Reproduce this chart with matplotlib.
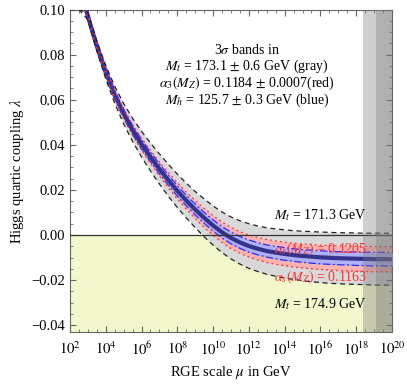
import numpy as np
import matplotlib
matplotlib.use("Agg")
import matplotlib.pyplot as plt
from matplotlib.ticker import FixedLocator, NullFormatter

plt.rcParams["font.family"] = ["Liberation Serif", "DejaVu Serif"]
plt.rcParams["mathtext.fontset"] = "stix"

# log10 of the RGE scale (GeV)
log_mu = [2.0, 2.5, 3.0, 3.5, 4.0, 4.5, 5.0, 5.5, 6.0, 6.5, 7.0, 7.5, 8.0, 8.5,
          9.0, 9.5, 10.0, 10.5, 11.0, 11.5, 12.0, 12.5, 13.0, 13.5, 14.0, 14.5,
          15.0, 15.5, 16.0, 16.5, 17.0, 17.5, 18.0, 18.5, 19.0, 19.5, 20.0]

# central lambda(mu)
lam_central = [0.128, 0.112, 0.097, 0.0838, 0.0722, 0.0622, 0.0538, 0.0466, 0.0403,
               0.0346, 0.0293, 0.0243, 0.0196, 0.0153, 0.0113, 0.0076, 0.0042,
               0.0012, -0.0013, -0.0033, -0.0049, -0.0061, -0.0071, -0.0078,
               -0.0084, -0.0089, -0.0093, -0.0096, -0.0099, -0.0101, -0.0103,
               -0.0104, -0.0105, -0.0106, -0.0107, -0.0107, -0.0108]

# half widths of the 3 sigma bands
width_mt = [0.0005, 0.001, 0.0015, 0.0022, 0.003, 0.0038, 0.0045, 0.0051, 0.0057,
            0.0062, 0.0067, 0.0071, 0.0074, 0.0077, 0.008, 0.0084, 0.0087, 0.009,
            0.0093, 0.0096, 0.0099, 0.0101, 0.0103, 0.0105, 0.0107, 0.0108, 0.011,
            0.0111, 0.0112, 0.0113, 0.0113, 0.0114, 0.0114, 0.0114, 0.0115, 0.0115,
            0.0115]
width_as = [0.0004, 0.0006, 0.0008, 0.0011, 0.0014, 0.0017, 0.002, 0.0023, 0.0026,
            0.0029, 0.0031, 0.0034, 0.0036, 0.0038, 0.004, 0.0042, 0.0044, 0.0045,
            0.0047, 0.0048, 0.0049, 0.005, 0.0051, 0.0052, 0.0052, 0.0053, 0.0053,
            0.0054, 0.0054, 0.0055, 0.0055, 0.0055, 0.0055, 0.0056, 0.0056, 0.0056,
            0.0056]
width_mh = [0.0019, 0.0019, 0.0019, 0.0019, 0.002, 0.002, 0.002, 0.002, 0.0021,
            0.0021, 0.0022, 0.0022, 0.0023, 0.0023, 0.0024, 0.0024, 0.0025, 0.0025,
            0.0026, 0.0026, 0.0027, 0.0027, 0.0027, 0.0028, 0.0028, 0.0028, 0.0028,
            0.0029, 0.0029, 0.0029, 0.0029, 0.0029, 0.003, 0.003, 0.003, 0.003, 0.003]

# Planck-scale shading (log10 GeV)
planck_reduced = 18.38
planck_full = 19.09

mu = 10.0 ** np.array(log_mu)
lam = np.array(lam_central)
wg, wr, wb = np.array(width_mt), np.array(width_as), np.array(width_mh)

fig = plt.figure(figsize=(4.07, 3.84), dpi=100)
ax = fig.add_axes([0.172, 0.135, 0.791, 0.840])

ymin, ymax = -0.0431, 0.10
ax.axhspan(ymin, 0, color="#f2f7cc", zorder=0, lw=0)

ax.fill_between(mu, lam - wg, lam + wg, color="#d9d9d9", lw=0, zorder=1)
ax.fill_between(mu, lam - wr, lam + wr, color="#f9b3b3", lw=0, zorder=2)
ax.fill_between(mu, lam - wb, lam + wb, color="#b0b0f5", lw=0, zorder=3)

ax.plot(mu, lam, color="#33338c", lw=3, zorder=4)
for s in (1, -1):
    ax.plot(mu, lam + s * wb, color="#2b2bff", lw=0.9, ls=(0, (6, 2, 1.5, 2)), zorder=5)
    ax.plot(mu, lam + s * wr, color="#ff3030", lw=0.9, ls=(0, (1.5, 2.5)), zorder=5)
    ax.plot(mu, np.minimum(lam + s * wg, ymax), color="#222222", lw=0.9,
            ls=(0, (4, 3)), zorder=6)

ax.axhline(0, color="#333333", lw=0.9, zorder=6)

ax.axvspan(10 ** planck_reduced, 1e20, color="#777777", alpha=0.35, lw=0, zorder=7)
ax.axvspan(10 ** planck_full, 1e20, color="#777777", alpha=0.35, lw=0, zorder=7)

ax.set_xscale("log")
ax.set_xlim(1e2, 1e20)
ax.set_ylim(ymin, ymax)

ax.xaxis.set_major_locator(FixedLocator([10.0 ** k for k in range(2, 21, 2)]))
ax.xaxis.set_minor_locator(FixedLocator([10.0 ** (k / 2) for k in range(4, 41)]))
ax.xaxis.set_minor_formatter(NullFormatter())
ax.set_xticklabels([f"$10^{{{k}}}$" for k in range(2, 21, 2)])
ax.yaxis.set_major_locator(FixedLocator([-0.04, -0.02, 0.0, 0.02, 0.04, 0.06, 0.08, 0.10]))
ax.yaxis.set_minor_locator(FixedLocator(np.arange(-0.04, 0.1001, 0.005)))
ax.set_yticklabels(["\u22120.04", "\u22120.02", "0.00", "0.02", "0.04", "0.06", "0.08", "0.10"])

ax.tick_params(which="both", direction="in", top=True, right=True, color="#666666",
               labelsize=10.5)
ax.tick_params(which="major", length=4)
ax.tick_params(which="minor", length=2.5)
ax.tick_params(axis="x", labeltop=False, pad=6)
for sp in ax.spines.values():
    sp.set_color("#666666")
    sp.set_linewidth(0.8)

ax.set_xlabel(r"RGE scale $\mu$ in GeV", fontsize=10.5, labelpad=4)
ax.set_ylabel(r"Higgs quartic coupling $\lambda$", fontsize=10.5, labelpad=4)

txt = dict(ha="center", va="center", fontsize=10, zorder=8)
ax.text(0.55, 0.874, r"3$\sigma$ bands in", transform=ax.transAxes, **txt)
ax.text(0.55, 0.823, r"$M_t$ = 173.1 $\pm$ 0.6 GeV (gray)", transform=ax.transAxes, **txt)
ax.text(0.55, 0.771, r"$\alpha_3(M_Z)$ = 0.1184 $\pm$ 0.0007(red)", transform=ax.transAxes, **txt)
ax.text(0.55, 0.718, r"$M_h$ = 125.7 $\pm$ 0.3 GeV (blue)", transform=ax.transAxes, **txt)

ax.text(1e16, 0.0089, r"$M_t$ = 171.3 GeV", **txt)
ax.text(1e16, -0.0062, r"$\alpha_s(M_Z)$ = 0.1205", color="#ff3030", **txt)
ax.text(1e16, -0.0187, r"$\alpha_s(M_Z)$ = 0.1163", color="#ff3030", **txt)
ax.text(1e16, -0.0305, r"$M_t$ = 174.9 GeV", **txt)

fig.savefig("out.png", dpi=100)
